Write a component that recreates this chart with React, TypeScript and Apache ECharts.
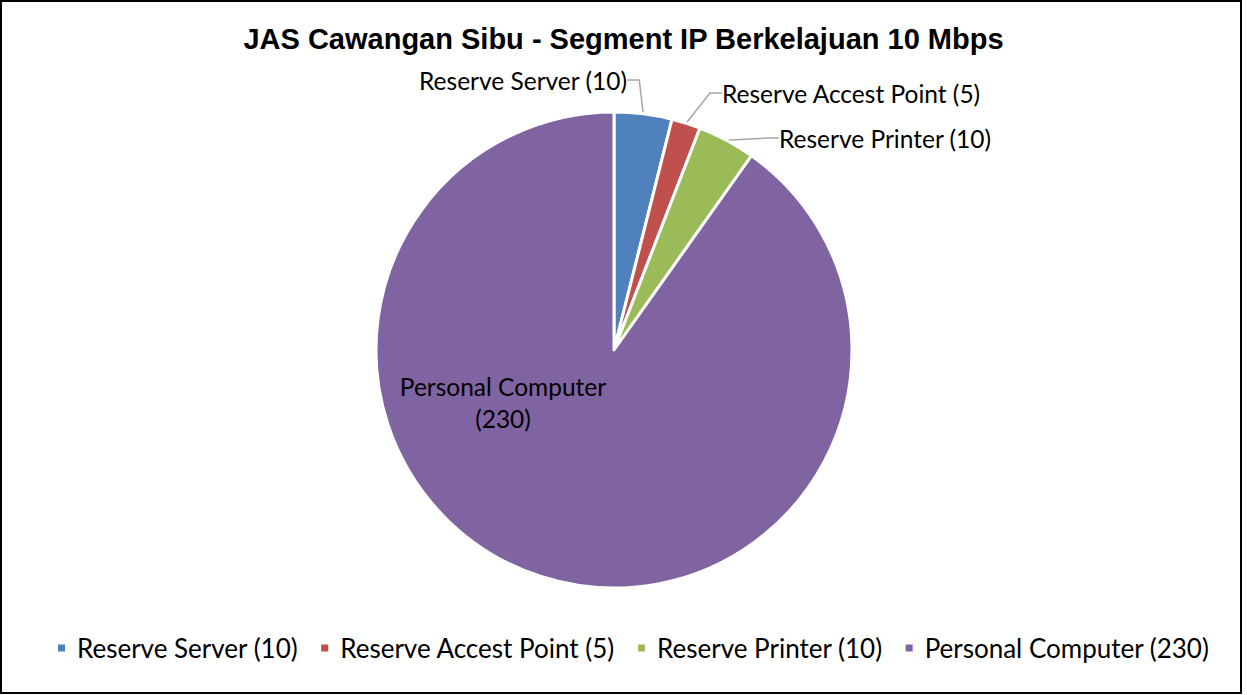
import React, { useEffect, useRef } from "react";
import * as echarts from "echarts";

const titleText = "JAS Cawangan Sibu - Segment IP Berkelajuan 10 Mbps";
const categories = ["Reserve Server", "Reserve Accest Point", "Reserve Printer", "Personal Computer"];
const values = [10, 5, 10, 230];
const colors = ["#4F81BD", "#C0504D", "#9BBB59", "#8064A2"];

const labelFont = "Lato, 'Open Sans', sans-serif";

export default function App() {
  const ref = useRef<HTMLDivElement>(null);
  useEffect(() => {
    if (!ref.current) return;
    const chart = echarts.init(ref.current, undefined, { renderer: "svg" });
    const names = categories.map((c, i) => `${c} (${values[i]})`);
    const labelPos: Record<number, any> = {
      0: { x: 523, y: 80, align: "center", verticalAlign: "middle" },
      1: { x: 722, y: 93, align: "left", verticalAlign: "middle" },
      2: { x: 779, y: 138, align: "left", verticalAlign: "middle" },
      3: { x: 503, y: 402, align: "center", verticalAlign: "middle" },
    };
    chart.setOption({
      animation: false,
      backgroundColor: "#ffffff",
      color: colors,
      title: {
        text: titleText,
        left: "center",
        top: 19,
        textStyle: {
          fontFamily: "'Liberation Sans', Arial, sans-serif",
          fontWeight: "bold",
          fontSize: 29,
          color: "#000",
        },
      },
      legend: {
        top: 630,
        left: 51,
        icon: "rect",
        itemWidth: 9,
        itemHeight: 9,
        itemGap: 21,
        data: names,
        textStyle: {
          fontFamily: labelFont,
          fontSize: 26,
          lineHeight: 26,
          color: "#000",
          padding: [0, 0, 0, 6],
        },
      },
      graphic: [
        {
          type: "rect",
          shape: { x: 1, y: 1, width: 1240, height: 692 },
          style: { fill: "none", stroke: "#000", lineWidth: 2 },
          silent: true,
        },
      ],
      series: [
        {
          type: "pie",
          center: [614, 350],
          radius: [0, 238],
          startAngle: 90,
          clockwise: true,
          data: names.map((n, i) => ({
            name: n,
            value: values[i],
            labelLine: { show: i !== 3 },
          })),
          itemStyle: { borderColor: "#fff", borderWidth: 3 },
          label: {
            show: true,
            position: "outside",
            formatter: (p: any) =>
              p.dataIndex === 3 ? "Personal Computer\n(230)" : p.name,
            fontFamily: labelFont,
            fontSize: 24.5,
            lineHeight: 32,
            color: "#000",
          },
          labelLine: {
            show: true,
            length: 10,
            length2: 12,
            lineStyle: { color: "#A6A6A6", width: 1.5 },
          },
          labelLayout: (p: any) => labelPos[p.dataIndex],
          emphasis: { disabled: true },
        },
      ],
    });
    return () => chart.dispose();
  }, []);
  return (
    <div
      ref={ref}
      style={{ position: "fixed", left: 0, top: 0, width: 1247, height: 695 }}
    />
  );
}
